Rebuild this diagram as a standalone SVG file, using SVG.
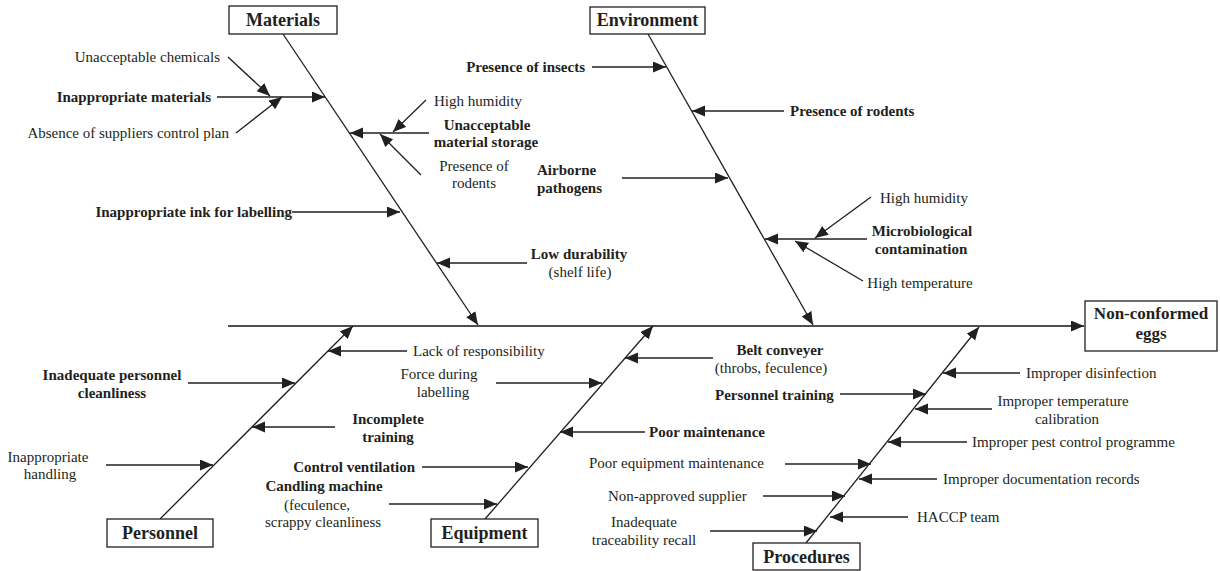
<svg xmlns="http://www.w3.org/2000/svg" width="1220" height="571" viewBox="0 0 1220 571">
<style>
text{font-family:"Liberation Serif","Times New Roman",serif;font-size:15px;fill:#231f20}
.b{font-weight:bold}
.m{text-anchor:middle}
.e{text-anchor:end}
.box{font-size:18px;font-weight:bold;text-anchor:middle}
rect{fill:#fff;stroke:#231f20;stroke-width:1.3}
.c line{stroke:#231f20;stroke-width:1.3;marker-end:url(#ah)}
.c line.s{stroke:#4d4d4f;stroke-width:2.2}
</style>
<defs>
<marker id="ah" markerUnits="userSpaceOnUse" markerWidth="14" markerHeight="12" refX="13" refY="5.5" orient="auto">
<path d="M0,0 L13,5.5 L0,11 Z" fill="#231f20"/>
</marker>
</defs>
<g class="c" id="connectors">
<line class="s" x1="228" y1="326" x2="1084" y2="326"/>
<line x1="283" y1="34" x2="478" y2="325"/>
<line x1="217" y1="97" x2="325" y2="97"/>
<line x1="228" y1="57" x2="270" y2="96"/>
<line x1="236" y1="133" x2="282" y2="97"/>
<line x1="429" y1="133" x2="350" y2="133"/>
<line x1="426" y1="100" x2="393" y2="132"/>
<line x1="421" y1="175" x2="380" y2="134"/>
<line x1="292" y1="212" x2="400" y2="212"/>
<line x1="527" y1="263" x2="437" y2="263"/>
<line x1="648" y1="34" x2="813" y2="325"/>
<line x1="592" y1="67" x2="666" y2="67"/>
<line x1="784" y1="111" x2="692" y2="111"/>
<line x1="622" y1="178" x2="728" y2="178"/>
<line x1="867" y1="239" x2="765" y2="239"/>
<line x1="871" y1="197" x2="815" y2="238"/>
<line x1="863" y1="281" x2="795" y2="241"/>
<line x1="160" y1="519" x2="353" y2="326"/>
<line x1="407" y1="351" x2="328" y2="351"/>
<line x1="188" y1="383" x2="295" y2="383"/>
<line x1="335" y1="427" x2="252" y2="427"/>
<line x1="106" y1="465" x2="213" y2="465"/>
<line x1="485" y1="519" x2="653" y2="326"/>
<line x1="713" y1="358" x2="625" y2="358"/>
<line x1="496" y1="383" x2="602" y2="383"/>
<line x1="645" y1="432" x2="560" y2="432"/>
<line x1="422" y1="467" x2="528" y2="467"/>
<line x1="389" y1="504" x2="497" y2="504"/>
<line x1="806" y1="543" x2="979" y2="327"/>
<line x1="840" y1="394" x2="926" y2="394"/>
<line x1="1020" y1="373" x2="943" y2="373"/>
<line x1="992" y1="409" x2="915" y2="409"/>
<line x1="967" y1="442" x2="888" y2="442"/>
<line x1="785" y1="464" x2="871" y2="464"/>
<line x1="937" y1="479" x2="859" y2="479"/>
<line x1="763" y1="496" x2="845" y2="496"/>
<line x1="908" y1="517" x2="830" y2="517"/>
<line x1="710" y1="531" x2="817" y2="531"/>
</g>
<g id="materials"><rect x="229" y="6" width="108" height="28"/><text class="box" x="283" y="26">Materials</text></g>
<g id="environment"><rect x="590" y="7" width="115" height="27"/><text class="box" x="647.5" y="26">Environment</text></g>
<g id="personnel"><rect x="107" y="519" width="106" height="28"/><text class="box" x="160" y="539">Personnel</text></g>
<g id="equipment"><rect x="431" y="519" width="107" height="28"/><text class="box" x="484.5" y="539">Equipment</text></g>
<g id="procedures"><rect x="753" y="543" width="107" height="27"/><text class="box" x="806.5" y="563">Procedures</text></g>
<g id="effect"><rect x="1085" y="301" width="132" height="50"/><text class="box" style="font-size:17px" x="1151" y="319">Non-conformed</text><text class="box" style="font-size:17px" x="1151" y="339">eggs</text></g>
<g id="materials-causes">
<text class="e" x="220" y="62">Unacceptable chemicals</text>
<text class="e b" x="211" y="102">Inappropriate materials</text>
<text class="e" x="229" y="138">Absence of suppliers control plan</text>
<text class="m" x="478" y="106">High humidity</text>
<text class="m b" x="487" y="130">Unacceptable</text>
<text class="m b" x="486" y="147">material storage</text>
<text class="m" x="474" y="171">Presence of</text>
<text class="m" x="474" y="188">rodents</text>
<text class="e b" x="292" y="217">Inappropriate ink for labelling</text>
<text class="m b" x="579" y="259">Low durability</text>
<text class="m" x="580" y="277">(shelf life)</text>
</g>
<g id="environment-causes">
<text class="e b" x="585" y="72">Presence of insects</text>
<text class="b" x="790" y="116">Presence of rodents</text>
<text class="b" x="537" y="175">Airborne</text>
<text class="b" x="537" y="193">pathogens</text>
<text class="m" x="924" y="203">High humidity</text>
<text class="m b" x="922" y="236">Microbiological</text>
<text class="m b" x="921" y="254">contamination</text>
<text class="m" x="920" y="288">High temperature</text>
</g>
<g id="personnel-causes">
<text x="413" y="356">Lack of responsibility</text>
<text class="m b" x="112" y="380">Inadequate personnel</text>
<text class="m b" x="112" y="398">cleanliness</text>
<text class="m b" x="388" y="424">Incomplete</text>
<text class="m b" x="388" y="442">training</text>
<text class="m" x="48" y="462">Inappropriate</text>
<text class="m" x="50" y="479">handling</text>
</g>
<g id="equipment-causes">
<text class="m b" x="780" y="355">Belt conveyer</text>
<text class="m" x="771" y="373">(throbs, feculence)</text>
<text class="m" x="439" y="379">Force during</text>
<text class="m" x="443" y="397">labelling</text>
<text class="b" x="649" y="437">Poor maintenance</text>
<text class="e b" x="415" y="472">Control ventilation</text>
<text class="m b" x="324" y="491">Candling machine</text>
<text class="m" x="317" y="510">(feculence,</text>
<text class="m" x="323" y="527">scrappy cleanliness</text>
</g>
<g id="procedures-causes">
<text class="b" x="715" y="400">Personnel training</text>
<text x="1026" y="378">Improper disinfection</text>
<text class="m" x="1063" y="406">Improper temperature</text>
<text class="m" x="1067" y="424">calibration</text>
<text x="972" y="447">Improper pest control programme</text>
<text x="589" y="468">Poor equipment maintenance</text>
<text x="943" y="484">Improper documentation records</text>
<text x="608" y="501">Non-approved supplier</text>
<text x="917" y="522">HACCP team</text>
<text class="m" x="644" y="527">Inadequate</text>
<text class="m" x="644" y="545">traceability recall</text>
</g>
</svg>
